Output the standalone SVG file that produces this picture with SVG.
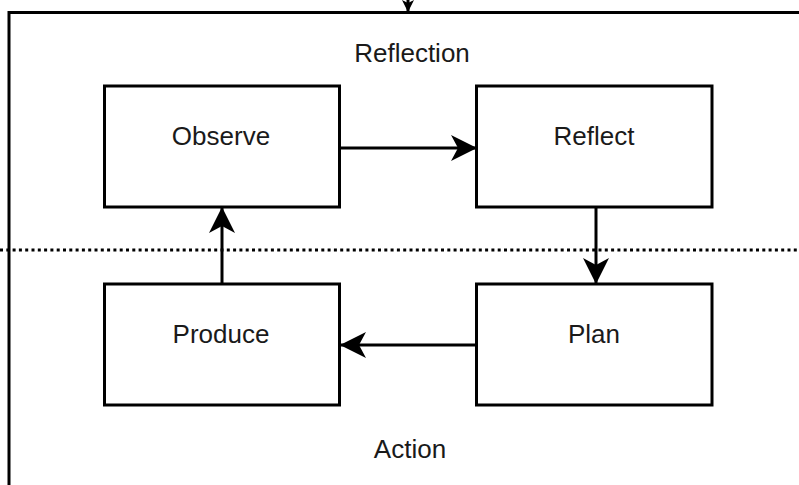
<svg xmlns="http://www.w3.org/2000/svg" width="799" height="485" viewBox="0 0 799 485">
<style>
.box{fill:#fff;stroke:#000;stroke-width:3}
.lbl{font-family:"Liberation Sans",Arial,sans-serif;font-size:26px;fill:#1a1a1a;text-anchor:middle}
.con{fill:none;stroke:#000;stroke-width:3}
</style>
<defs>
<marker id="ah" viewBox="0 0 26 26" refX="25" refY="13" markerWidth="26" markerHeight="26" markerUnits="userSpaceOnUse" orient="auto">
<path d="M0,0 L26,13 L0,26 L7,13 z" fill="#000"/>
</marker>
<marker id="ahs" viewBox="0 0 12 12" refX="11" refY="6" markerWidth="12" markerHeight="12" markerUnits="userSpaceOnUse" orient="auto">
<path d="M0,0 L12,6 L0,12 L3,6 z" fill="#000"/>
</marker>
</defs>
<rect width="799" height="485" fill="#fff"/>
<g id="frame">
<rect x="9" y="12.5" width="820" height="500" fill="none" stroke="#000" stroke-width="3"/>
<line x1="0" y1="250" x2="799" y2="250" stroke="#000" stroke-width="3" stroke-dasharray="3 3.3"/>
<text class="lbl" x="412" y="62">Reflection</text>
<text class="lbl" x="410" y="458">Action</text>
</g>
<g id="observe">
<rect class="box" x="104.5" y="86" width="235" height="121"/>
<text class="lbl" x="221" y="145">Observe</text>
</g>
<g id="reflect">
<rect class="box" x="476.5" y="86" width="235.5" height="121"/>
<text class="lbl" x="594" y="145">Reflect</text>
</g>
<g id="produce">
<rect class="box" x="104.5" y="284" width="235" height="121"/>
<text class="lbl" x="221" y="343">Produce</text>
</g>
<g id="plan">
<rect class="box" x="476.5" y="284" width="235.5" height="121"/>
<text class="lbl" x="594" y="343">Plan</text>
</g>
<g id="connectors">
<path class="con" d="M408,-10 L408,11" marker-end="url(#ahs)"/>
<path class="con" d="M339.5,148 L476,148" marker-end="url(#ah)"/>
<path class="con" d="M596,207 L596,283" marker-end="url(#ah)"/>
<path class="con" d="M476.5,345 L341,345" marker-end="url(#ah)"/>
<path class="con" d="M222,284 L222,208" marker-end="url(#ah)"/>
</g>
</svg>
